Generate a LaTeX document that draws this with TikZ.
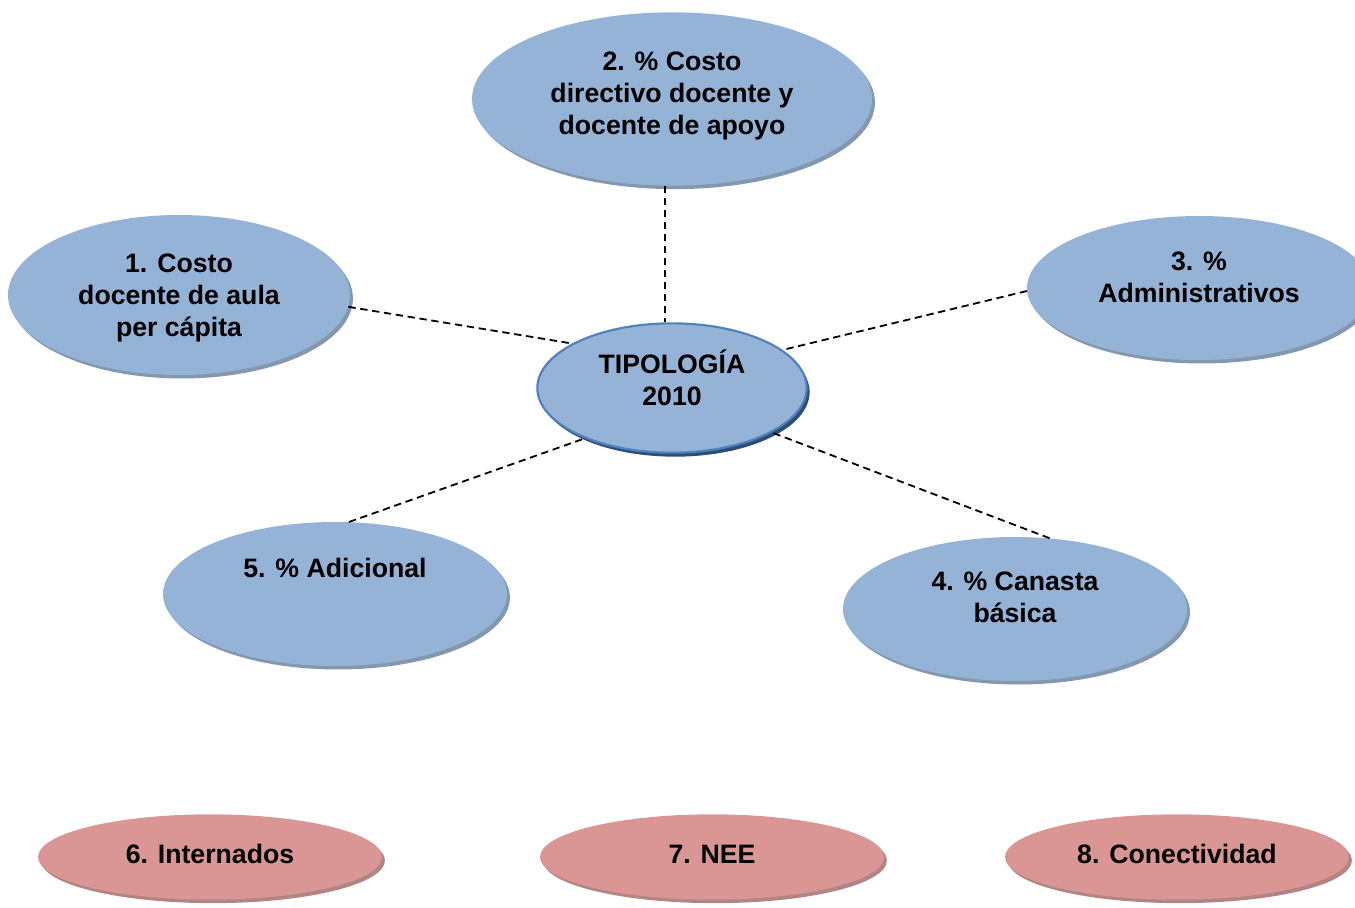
\documentclass[tikz,border=0pt]{standalone}
\usepackage{fontspec}
\setmainfont{Liberation Sans}
\usetikzlibrary{shapes.geometric,shadows}
\definecolor{bfill}{HTML}{95B3D7}
\definecolor{bshadow}{HTML}{8397AF}
\definecolor{rfill}{HTML}{D99694}
\definecolor{rshadow}{HTML}{B08584}
\definecolor{cborder}{HTML}{4F81BD}
\definecolor{cshadow}{HTML}{2C4D78}
\begin{document}
\begin{tikzpicture}[x=0.75pt,y=-0.75pt,
  bub/.style={ellipse, inner sep=0pt, fill=bfill,
    drop shadow={shadow xshift=2.2pt, shadow yshift=-2.6pt, fill=bshadow, opacity=1}},
  rbub/.style={ellipse, inner sep=0pt, fill=rfill,
    drop shadow={shadow xshift=2.2pt, shadow yshift=-2.6pt, fill=rshadow, opacity=1}},
  cbub/.style={ellipse, inner sep=0pt, fill=bfill, draw=cborder, line width=1.6pt,
    drop shadow={shadow xshift=2.2pt, shadow yshift=-3pt, fill=cshadow, opacity=1}},
  lbl/.style={font=\bfseries\fontsize{20}{24}\selectfont, align=center, inner sep=0pt},
  conn/.style={draw=black, line width=1.35pt, dash pattern=on 5.5pt off 3.5pt}]
\useasboundingbox (0,0) rectangle (1355,907);
% blue ellipses
\node[bub, minimum width=256.5pt, minimum height=120pt] (n1) at (179,295) {};
\node[bub, minimum width=300pt, minimum height=130pt] (n2) at (672,99) {};
\node[bub, minimum width=258pt, minimum height=108pt] (n3) at (1199,288) {};
\node[bub, minimum width=258pt, minimum height=108pt] (n4) at (1015,609) {};
\node[bub, minimum width=258pt, minimum height=108pt] (n5) at (335,594) {};
\node[cbub, minimum width=202pt, minimum height=97pt] (c) at (672,388) {};
% red ellipses
\node[rbub, minimum width=258pt, minimum height=64pt] (n6) at (210,857) {};
\node[rbub, minimum width=258pt, minimum height=64pt] (n7) at (712,857) {};
\node[rbub, minimum width=258pt, minimum height=64pt] (n8) at (1177,857) {};
% labels
\node[lbl] (t1) at (179,297.5) {1. Costo\\docente de aula\\per cápita};
\node[lbl] (t2) at (672,95.5) {2. \% Costo\\directivo docente y\\docente de apoyo};
\node[lbl] (t3) at (1199,277) {3. \%\\Administrativos};
\node[lbl] (t4) at (1015,597) {4. \% Canasta\\básica};
\node[lbl] (t5) at (335,568) {5. \% Adicional};
\node[lbl] (tc) at (672,378) {TIPOLOGÍA\\2010};
\node[lbl] (t6) at (210,854) {6. Internados};
\node[lbl] (t7) at (712,854) {7. NEE};
\node[lbl] (t8) at (1177,854) {8. Conectividad};
% connectors
\draw[conn] ([xshift=-5.25pt]n2.south) -- ([xshift=-5.25pt]c.north);
\draw[conn] (n1.-4) -- (c.156);
\draw[conn] (n3.181) -- (c.19);
\draw[conn] (n5.79) -- (c.210);
\draw[conn] (n4.64) -- (c.-24);
\end{tikzpicture}
\end{document}
